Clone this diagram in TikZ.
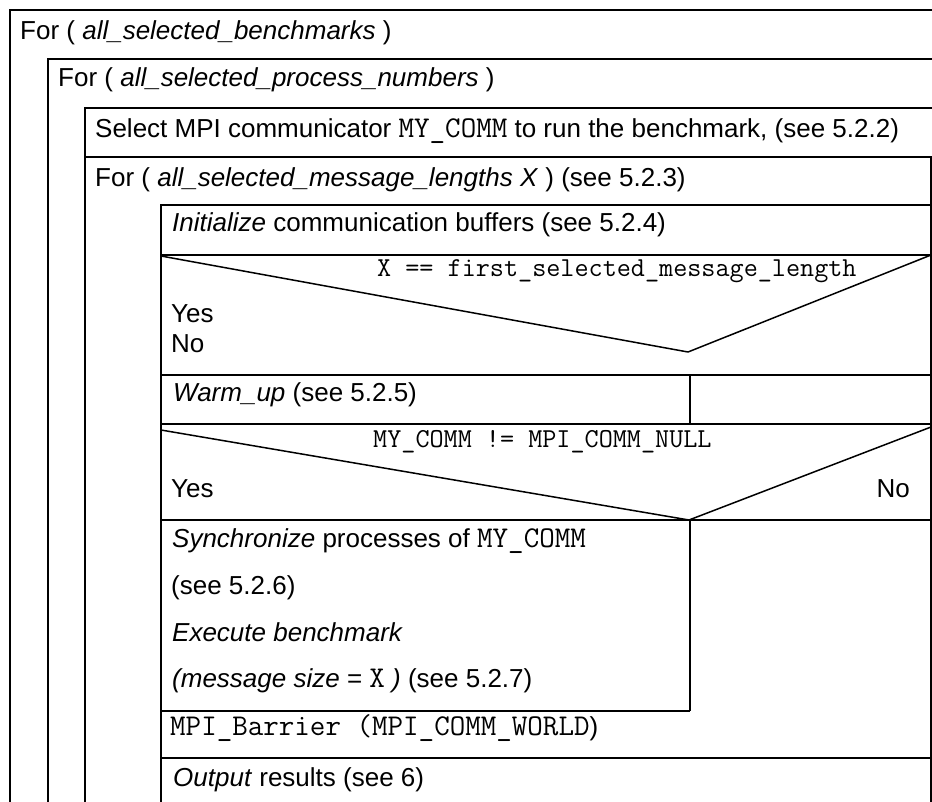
\documentclass[tikz,border=0pt]{standalone}
\usepackage{fontspec}
\setmainfont{Liberation Sans}
\setmonofont{Latin Modern Mono}[Scale=1.16]
\begin{document}
\begin{tikzpicture}[x=1pt,y=-1pt,
  frame/.style={line width=2.2pt},
  diag/.style={line width=1.5pt, line join=round},
  txt/.style={anchor=base west, inner sep=0pt, font=\fontsize{26}{30}\selectfont},
  cond/.style={anchor=base west, inner sep=0pt, font=\fontsize{23.6}{28}\selectfont\ttfamily}]
\useasboundingbox (0,0) rectangle (932,801);
% coordinates of the structure
\coordinate (a1) at (10,10);   \coordinate (a2) at (940,10);  \coordinate (a3) at (10,810);
\coordinate (b1) at (48,59);   \coordinate (b2) at (940,59);  \coordinate (b3) at (48,810);
\coordinate (c1) at (85,108);  \coordinate (c2) at (940,108); \coordinate (c3) at (85,810);
\coordinate (d1) at (85,157);  \coordinate (d2) at (931,157); \coordinate (d3) at (931,810);
\coordinate (e1) at (161,205); \coordinate (e2) at (931,205); \coordinate (e3) at (161,810);
% frames
\draw[frame] (a3) -- (a1) -- (a2);
\draw[frame] (b3) -- (b1) -- (b2);
\draw[frame] (c3) -- (c1) -- (c2);
\draw[frame] (d1) -- (d2) -- (d3);
\draw[frame] (e3) -- (e1) -- (e2);
\foreach \yy in {255,375,424,520,758} \draw[frame] (161,\yy) -- (931,\yy);
\draw[frame] (161,711) -- (690,711);
\draw[frame] (690,375) -- (690,424);
\draw[frame] (690,520) -- (690,711);
% decision diagonals
\coordinate (v1) at (688,352);
\coordinate (v2) at (689,520);
\draw[diag] (161,256) -- (v1) -- (931,255);
\draw[diag] (161,430) -- (v2) -- (931,427);
% texts
\node[txt] (t1) at (20,39) {For ( \textit{all\_selected\_benchmarks} )};
\node[txt] (t2) at (58,86) {For ( \textit{all\_selected\_process\_numbers} )};
\node[txt] (t3) at (95,137) {Select MPI communicator \texttt{MY\_COMM} to run the benchmark, (see 5.2.2)};
\node[txt] (t4) at (95,186) {For ( \textit{all\_selected\_message\_lengths X} ) (see 5.2.3)};
\node[txt] (t5) at (172,231) {\textit{Initialize} communication buffers (see 5.2.4)};
\node[cond] (q1) at (377,276) {X == first\_selected\_message\_length};
\node[txt] (y1) at (171,322) {Yes};
\node[txt] (n1) at (171,352) {No};
\node[txt] (t6) at (173,401) {\textit{Warm\_up} (see 5.2.5)};
\node[cond] (q2) at (373,447) {MY\_COMM != MPI\_COMM\_NULL};
\node[txt] (y2) at (171,497) {Yes};
\node[txt, anchor=base east] (n2) at (910,497) {No};
\node[txt] (t7) at (172,547) {\textit{Synchronize} processes of \texttt{MY\_COMM}};
\node[txt] (t8) at (171,594) {(see 5.2.6)};
\node[txt] (t9) at (172,641) {\textit{Execute benchmark}};
\node[txt] (t10) at (172,687) {\textit{(message size} = \texttt{X} \textit{)} (see 5.2.7)};
\node[txt] (t11) at (170,735) {\texttt{MPI\_Barrier (MPI\_COMM\_WORLD})};
\node[txt] (t12) at (173,786) {\textit{Output} results (see 6)};
\end{tikzpicture}
\end{document}
